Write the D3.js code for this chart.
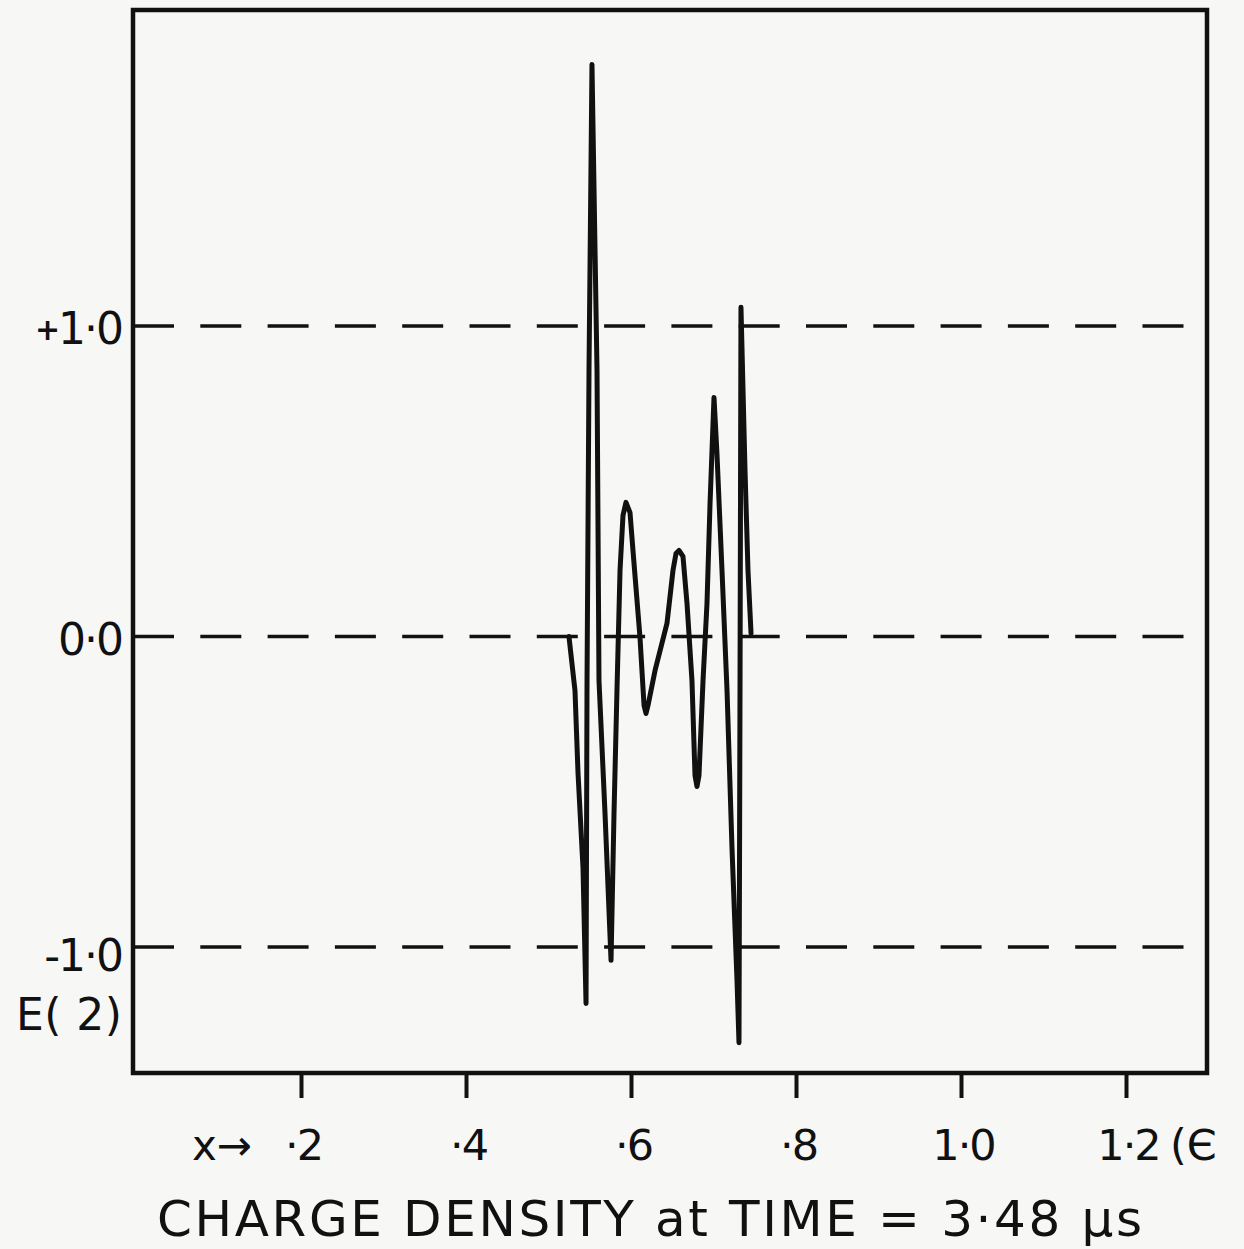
<!DOCTYPE html>
<html>
<head>
<meta charset="utf-8">
<script src="https://cdn.jsdelivr.net/npm/d3@7"></script>
<style>
  html, body { margin: 0; padding: 0; background: #f7f7f6; }
  svg { display: block; }
  text { font-family: "DejaVu Sans", sans-serif; fill: #111; }
</style>
</head>
<body>
<svg id="chart" width="1244" height="1249"></svg>
<script>
// ---- data ----
const xTicks = [0.2, 0.4, 0.6, 0.8, 1.0, 1.2];
const xTickLabels = ["·2", "·4", "·6", "·8", "1·0", "1·2"];
const yRefLines = [1, 0, -1];
const yTickSigns = ["+", "", "-"];
const yTickLabels = ["1·0", "0·0", "1·0"];
const yAxisName = "E( 2)";
const xAxisName = "x→";
const xUnitLabel = "(Є";
const title = "CHARGE DENSITY at TIME = 3·48 μs";

// charge density curve E(2) vs x
const curveX = [0.5248, 0.5321, 0.5358, 0.5418, 0.5455, 0.5467, 0.5491, 0.5527, 0.5588, 0.5612,
                0.5685, 0.5758, 0.5794, 0.5830, 0.5867, 0.5903, 0.5939, 0.5988, 0.6024, 0.6109,
                0.6158, 0.6182, 0.6206, 0.6291, 0.6436, 0.6509, 0.6545, 0.6582, 0.6630, 0.6679,
                0.6739, 0.6776, 0.6800, 0.6824, 0.6873, 0.6921, 0.6958, 0.7006, 0.7042, 0.7103,
                0.7164, 0.7224, 0.7285, 0.7309, 0.7321, 0.7333, 0.7382, 0.7418, 0.7455];
const curveY = [0.000, -0.174, -0.441, -0.744, -1.182, -0.142, 0.857, 1.842, 0.857, -0.142,
                -0.570, -1.043, -0.570, -0.174, 0.213, 0.390, 0.432, 0.399, 0.277, -0.003,
                -0.222, -0.248, -0.222, -0.110, 0.042, 0.213, 0.267, 0.277, 0.258, 0.106,
                -0.142, -0.448, -0.483, -0.448, -0.142, 0.106, 0.428, 0.770, 0.589, 0.213,
                -0.174, -0.680, -1.108, -1.308, -0.206, 1.060, 0.535, 0.213, 0.010];

// ---- layout ----
const frame = { left: 133, top: 10, right: 1207, bottom: 1073 };
const svg = d3.select("#chart");

const x = d3.scaleLinear().domain([0.2, 1.2]).range([301, 1126]);
const y = d3.scaleLinear().domain([-1, 1]).range([947, 326]);

// dashed reference lines
svg.append("g").selectAll("line")
  .data(yRefLines)
  .join("line")
  .attr("x1", frame.left)
  .attr("x2", frame.right)
  .attr("y1", d => y(d))
  .attr("y2", d => y(d))
  .attr("stroke", "#111")
  .attr("stroke-width", 3.5)
  .attr("stroke-dasharray", "41,26.3");

// frame
svg.append("rect")
  .attr("x", frame.left)
  .attr("y", frame.top)
  .attr("width", frame.right - frame.left)
  .attr("height", frame.bottom - frame.top)
  .attr("fill", "none")
  .attr("stroke", "#111")
  .attr("stroke-width", 4.5);

// x axis ticks
const xAxis = svg.append("g")
  .attr("transform", `translate(0,${frame.bottom})`)
  .call(d3.axisBottom(x).tickValues(xTicks).tickSize(25).tickPadding(31)
        .tickFormat((d, i) => xTickLabels[i]));
xAxis.select(".domain").remove();
xAxis.selectAll(".tick line").attr("stroke", "#111").attr("stroke-width", 4);
xAxis.selectAll(".tick text")
  .attr("font-size", 43)
  .attr("font-family", "DejaVu Sans, sans-serif")
  .attr("fill", "#111")
  .attr("letter-spacing", -2)
  .attr("dx", 2);

// x axis name and unit
svg.append("text")
  .attr("x", 222).attr("y", 1160)
  .attr("text-anchor", "middle")
  .attr("font-size", 42)
  .text(xAxisName);
svg.append("text")
  .attr("x", 1170).attr("y", 1160)
  .attr("text-anchor", "start")
  .attr("font-size", 43)
  .text(xUnitLabel);

// y labels
const yl = svg.append("g").selectAll("text")
  .data(yRefLines)
  .join("text")
  .attr("x", 122)
  .attr("y", d => y(d) + (d < 0 ? 24 : 18))
  .attr("text-anchor", "end")
  .attr("font-size", 44)
  .attr("letter-spacing", -2);
yl.append("tspan")
  .attr("font-size", (d, i) => yTickSigns[i] === "+" ? 30 : 44)
  .attr("font-weight", (d, i) => yTickSigns[i] === "+" ? "bold" : "normal")
  .attr("dy", (d, i) => yTickSigns[i] === "+" ? -4 : 0)
  .text((d, i) => yTickSigns[i]);
yl.append("tspan")
  .attr("dy", (d, i) => yTickSigns[i] === "+" ? 4 : 0)
  .text((d, i) => yTickLabels[i]);

svg.append("text")
  .attr("x", 122).attr("y", 1030)
  .attr("text-anchor", "end")
  .attr("font-size", 44)
  .attr("textLength", 106)
  .attr("lengthAdjust", "spacing")
  .text(yAxisName);

// curve
const pts = curveX.map((v, i) => [v, curveY[i]]);
svg.append("path")
  .datum(pts)
  .attr("fill", "none")
  .attr("stroke", "#111")
  .attr("stroke-width", 5)
  .attr("stroke-linejoin", "round")
  .attr("stroke-linecap", "round")
  .attr("d", d3.line().x(d => x(d[0])).y(d => y(d[1])).curve(d3.curveLinear));

// title
svg.append("text")
  .attr("x", 157).attr("y", 1236)
  .attr("font-size", 50)
  .attr("textLength", 985)
  .attr("lengthAdjust", "spacing")
  .text(title);
</script>
</body>
</html>
